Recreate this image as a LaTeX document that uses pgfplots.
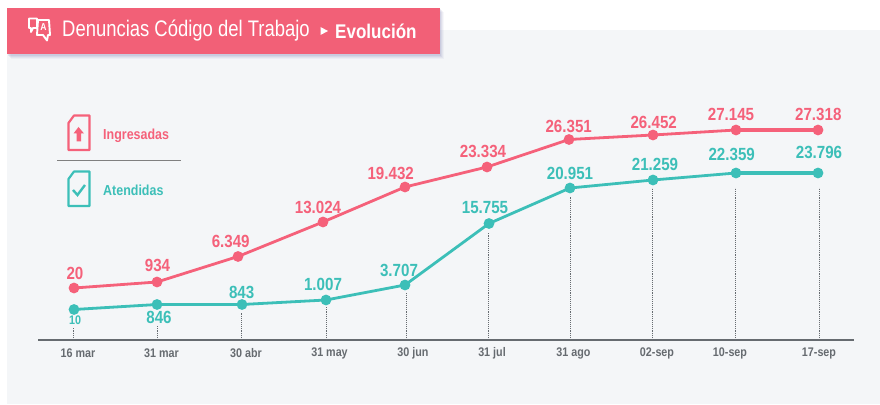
\documentclass[border=0pt]{standalone}
\usepackage{pgfplots}
\pgfplotsset{compat=1.18}
\usepackage{fontspec}
\setmainfont{Liberation Sans}
\newfontfamily\narrowreg[FakeStretch=0.82]{Liberation Sans}
\newfontfamily\narrowbold[FakeStretch=0.86]{Liberation Sans Bold}
\definecolor{rojo}{HTML}{F5617A}
\definecolor{banner}{HTML}{F26077}
\definecolor{teal2}{HTML}{3CBFB8}
\definecolor{panel}{HTML}{F4F6F8}
\definecolor{txtgray}{HTML}{666B70}
\pgfplotstableread{
x h
74 52
157 58
238 83.5
323 118
405 153
487 173
569 200.5
653 205
736 210
818 210
}\ingresadas
\pgfplotstableread{
x h
74 30.5
157 35.5
242 35.5
326 40
405 55
489 116.5
570 152
653 160
736 167
818 167
}\atendidas
\newcommand{\lbl}[5][17.6]{\node[text=#2,font={\fontsize{#1}{#1}\narrowbold},inner sep=0pt,anchor=center] at (axis cs:#3,{340-#4}) {#5};}
\begin{document}
\begin{tikzpicture}[x=1pt,y=1pt]
\useasboundingbox (0,0) rectangle (880,404);
\fill[white] (0,0) rectangle (880,404);
\fill[panel] (7,0) rectangle (880,374);
% banner shadow
\foreach \d/\o in {4/0.05,3/0.07,2/0.09,1/0.11}{
  \fill[black!60!blue!60,opacity=\o] (7+\d,350-1-\d) rectangle (440+\d,396-\d);
}
\fill[banner] (7,350) rectangle (440,396);
% banner icon
\begin{scope}[white,line width=1.9pt,line join=round]
\draw (29,385.5) -- (37,385.5) -- (37,376) -- (33,376) -- (31,372) -- (31,376) -- (29,376) -- cycle;
\draw[fill=banner] (38,384) -- (49,384) -- (50,369) -- (48,369) -- (47,363.5) -- (43,369) -- (37,369) -- cycle;
\node[white,font={\fontsize{10}{10}\narrowbold},inner sep=0pt] at (43.5,376.5) {A};
\end{scope}
\node[white,anchor=west,inner sep=0pt,font={\fontsize{22.5}{22.5}\narrowreg}] at (62,373) {Denuncias Código del Trabajo};
\fill[white] (320.5,377) -- (328,373) -- (320.5,369) -- cycle;
\node[white,anchor=west,inner sep=0pt,font={\fontsize{19.8}{19.8}\narrowbold}] at (335,373) {Evolución};
% legend
\draw[rojo,line width=2.2pt,line join=round] (74,288.5) -- (89.5,288.5) -- (89.5,254) -- (68.5,254) -- (68.5,281) -- cycle;
\fill[rojo] (78.5,277) -- (84,270.5) -- (81,270.5) -- (81,262.5) -- (76.5,262.5) -- (76.5,270.5) -- (73.5,270.5) -- cycle;
\node[rojo,anchor=west,inner sep=0pt,font={\fontsize{14.5}{14.5}\narrowbold}] at (103,268.5) {Ingresadas};
\draw[gray,line width=1pt] (57,243.5) -- (181,243.5);
\draw[teal2,line width=2.2pt,line join=round] (74,232.5) -- (89.5,232.5) -- (89.5,198) -- (68.5,198) -- (68.5,225) -- cycle;
\draw[teal2,line width=2.4pt] (73,214) -- (77.5,209) -- (85,219);
\node[teal2,anchor=west,inner sep=0pt,font={\fontsize{14.5}{14.5}\narrowbold}] at (103,214) {Atendidas};
\begin{axis}[
  at={(38pt,64pt)},anchor=origin,
  scale only axis,width=816pt,height=310pt,
  xmin=38,xmax=854,ymin=0,ymax=310,
  clip=false,
  axis y line=none,
  axis x line=bottom,
  x axis line style={-,draw=txtgray,line width=1.2pt},
  xtick={78,161.5,246,329.5,413,492,573.5,657,730,819},
  xticklabels={16 mar,31 mar,30 abr,31 may,30 jun,31 jul,31 ago,02-sep,10-sep,17-sep},
  major tick length=0pt,
  xticklabel style={text=txtgray,font={\fontsize{12.5}{12.5}\narrowbold},inner sep=0pt,anchor=center,yshift=-13pt},
]
% dotted drop lines
\foreach \xx/\yy in {73/13,157/15,241.5/27,326/33,406.5/47,488.7/107,570.7/143,652.7/152,735.7/152,819/152}{
  \edef\tmp{\noexpand\addplot[forget plot,txtgray,line width=0.9pt,densely dotted] coordinates {(\xx,0) (\xx,\yy)};}
  \tmp
}
\addplot[rojo,line width=2.8pt,mark=*,mark size=3.9pt,mark options={solid,fill=rojo,draw=none}] table[x=x,y=h] {\ingresadas};
\addplot[teal2,line width=2.8pt,mark=*,mark size=3.9pt,mark options={solid,fill=teal2,draw=none}] table[x=x,y=h] {\atendidas};
\addplot[forget plot,rojo,line width=3.8pt] coordinates {(736,210) (818,210)};
\addplot[forget plot,teal2,line width=3.8pt] coordinates {(736,167) (818,167)};
\lbl{rojo}{75}{273}{20}
\lbl{rojo}{157.5}{265}{934}
\lbl{rojo}{230.7}{241}{6.349}
\lbl{rojo}{318}{207.5}{13.024}
\lbl{rojo}{390.7}{173}{19.432}
\lbl{rojo}{483}{151.7}{23.334}
\lbl{rojo}{568.7}{126}{26.351}
\lbl{rojo}{653.7}{122}{26.452}
\lbl{rojo}{731}{114}{27.145}
\lbl{rojo}{818.3}{114}{27.318}
\lbl[12.5]{teal2}{75}{320.5}{10}
\lbl{teal2}{159}{317}{846}
\lbl{teal2}{241.7}{292}{843}
\lbl{teal2}{323}{284}{1.007}
\lbl{teal2}{399}{270}{3.707}
\lbl{teal2}{485}{207.5}{15.755}
\lbl{teal2}{570}{173.5}{20.951}
\lbl{teal2}{655}{164}{21.259}
\lbl{teal2}{731.7}{154}{22.359}
\lbl{teal2}{819}{152}{23.796}
\end{axis}
\end{tikzpicture}
\end{document}
